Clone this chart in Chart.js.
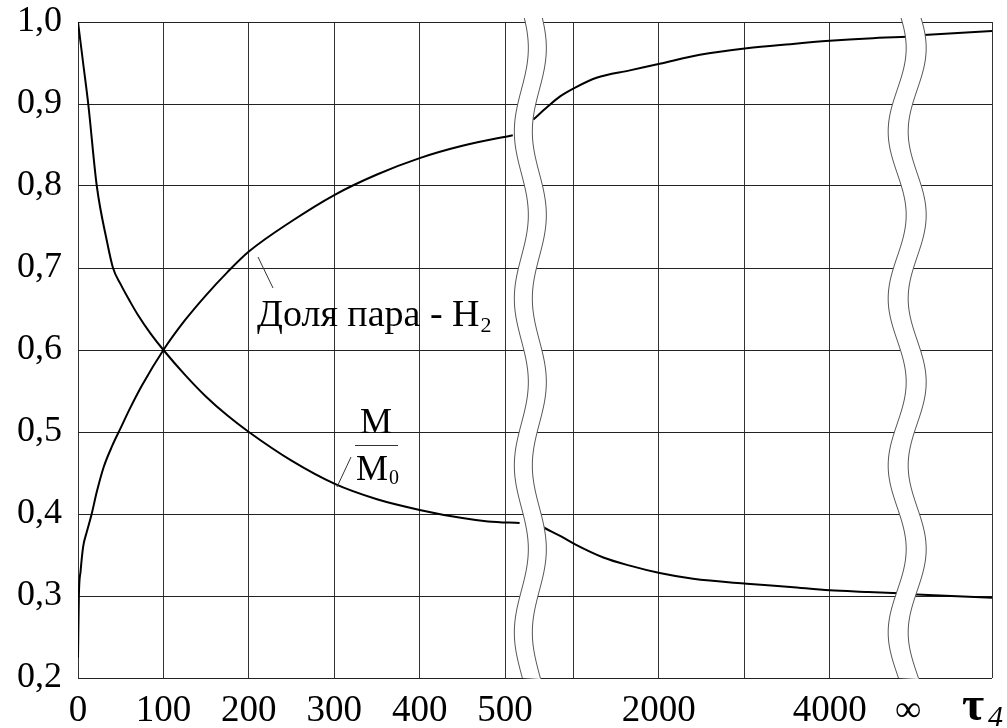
<!DOCTYPE html>
<html>
<head>
<meta charset="utf-8">
<script src="https://cdn.jsdelivr.net/npm/chart.js@4.4.1/dist/chart.umd.min.js"></script>
<style>
  html, body { margin: 0; padding: 0; background: #fff; }
  #wrap { width: 1007px; height: 728px; }
</style>
</head>
<body>
<div id="wrap"><canvas id="chart" width="1007" height="728"></canvas></div>
<script>
// Broken time axis: 0..500 linear, then 1000..4000, then "infinity"
// positions are in axis units, labels shown at them
const xTickPos = [0, 100, 200, 300, 400, 500, 580, 680, 780, 880, 972, 1070];
const xTickText = ['0', '100', '200', '300', '400', '500', '', '2000', '', '4000', '\u221E', ''];
const yTicks = [0.2, 0.3, 0.4, 0.5, 0.6, 0.7, 0.8, 0.9, 1.0];

// Доля пара - H2 (null = axis break)
const h2X = [0, 1, 3, 6, 10, 16, 22, 30, 40, 50, 60, 75, 100, 125, 150, 175, 200, 250, 300, 350, 400, 450, 509,
             508,
             533, 549, 564, 582, 607, 646, 681, 728, 783, 834, 880, 925, 970,
             971,
             990, 1070];
const h2Y = [0.225, 0.30, 0.33, 0.36, 0.377, 0.40, 0.427, 0.457, 0.483, 0.505, 0.527, 0.557, 0.60, 0.636, 0.667, 0.695, 0.72, 0.757, 0.789, 0.814, 0.834, 0.849, 0.862,
             null,
             0.881, 0.896, 0.909, 0.92, 0.932, 0.941, 0.949, 0.96, 0.968, 0.973, 0.977, 0.98, 0.982,
             null,
             0.984, 0.989];

// M / M0
const mX = [0, 6, 12, 22, 34, 41, 50, 61, 70, 85, 100, 125, 150, 175, 200, 250, 300, 350, 400, 450, 480, 517,
            518,
            535, 548, 565, 582, 615, 646, 681, 720, 783, 834, 880, 925, 970,
            971,
            975, 1070];
const mY = [1.0, 0.95, 0.9, 0.8, 0.732, 0.70, 0.68, 0.659, 0.643, 0.62, 0.60, 0.57, 0.543, 0.52, 0.50, 0.465, 0.437, 0.418, 0.405, 0.395, 0.391, 0.389,
            null,
            0.389, 0.382, 0.373, 0.363, 0.347, 0.337, 0.328, 0.321, 0.315, 0.311, 0.307, 0.305, 0.303,
            null,
            0.302, 0.298];

// where the wavy break bands sit (axis units)
const breakAt = [519, 959];
const breakGap = [18, 20];
const breakAmp = [7, 9];

const FONT = "'Liberation Serif', 'Times New Roman', serif";

const toPoints = (xs, ys) => xs.map((x, i) => ({ x: x, y: ys[i] }));

// white wavy band with thin outlines over the plot
const breakPlugin = {
    id: 'axisBreaks',
    afterDatasetsDraw(chart) {
        const { ctx, chartArea, scales } = chart;
        const top = chartArea.top - 4, bottom = chartArea.bottom + 1;
        breakAt.forEach((u, k) => {
            const x0 = scales.x.getPixelForValue(u);
            const edge = (y, dx) => x0 + dx + breakAmp[k] * Math.cos(2 * Math.PI * (y - chartArea.top - 26) / 167);
            ctx.save();
            ctx.beginPath();
            for (let y = top; y <= bottom; y += 2) ctx.lineTo(edge(y, 0), y);
            for (let y = bottom; y >= top; y -= 2) ctx.lineTo(edge(y, breakGap[k]), y);
            ctx.closePath();
            ctx.fillStyle = '#fff';
            ctx.fill();
            ctx.strokeStyle = '#555';
            ctx.lineWidth = 1;
            [0, breakGap[k]].forEach(dx => {
                ctx.beginPath();
                for (let y = top; y <= bottom; y += 2) ctx.lineTo(edge(y, dx), y);
                ctx.stroke();
            });
            ctx.restore();
        });
    }
};

// curve labels and the axis symbol
const labelPlugin = {
    id: 'curveLabels',
    afterDraw(chart) {
        const ctx = chart.ctx;
        ctx.save();
        ctx.fillStyle = '#000';
        ctx.strokeStyle = '#333';
        ctx.lineWidth = 1;
        ctx.textBaseline = 'alphabetic';

        // Доля пара - H2
        ctx.beginPath(); ctx.moveTo(258, 257); ctx.lineTo(273, 288); ctx.stroke();
        ctx.font = '38px ' + FONT;
        ctx.textAlign = 'left';
        ctx.fillText('Доля пара - H', 257, 326);
        const w = ctx.measureText('Доля пара - H').width;
        ctx.font = '22px ' + FONT;
        ctx.fillText('2', 257 + w + 1, 332);

        // M / M0
        ctx.beginPath(); ctx.moveTo(351, 457); ctx.lineTo(337, 487); ctx.stroke();
        ctx.font = '36px ' + FONT;
        ctx.textAlign = 'center';
        ctx.fillText('M', 376, 433);
        ctx.beginPath(); ctx.moveTo(355, 445.5); ctx.lineTo(398, 445.5); ctx.stroke();
        ctx.textAlign = 'left';
        const mw = ctx.measureText('M').width;
        ctx.fillText('M', 356, 480);
        ctx.font = '20px ' + FONT;
        ctx.fillText('0', 356 + mw + 1, 484);

        // tau_4
        ctx.font = 'bold 48px ' + FONT;
        ctx.fillText('\u03C4', 962, 720);
        ctx.font = 'italic 30px ' + FONT;
        ctx.fillText('4', 988, 726);
        ctx.restore();
    }
};

Chart.defaults.color = '#000';
Chart.defaults.font.family = FONT;

new Chart(document.getElementById('chart'), {
    type: 'line',
    data: {
        datasets: [
            {
                label: 'Доля пара - H2',
                data: toPoints(h2X, h2Y),
                borderColor: '#000',
                borderWidth: 2,
                pointRadius: 0,
                cubicInterpolationMode: 'monotone',
                spanGaps: false
            },
            {
                label: 'M/M0',
                data: toPoints(mX, mY),
                borderColor: '#000',
                borderWidth: 2,
                pointRadius: 0,
                cubicInterpolationMode: 'monotone',
                spanGaps: false
            }
        ]
    },
    options: {
        responsive: false,
        animation: false,
        layout: { padding: { top: 22, right: 15, left: 0, bottom: 0 } },
        plugins: { legend: { display: false }, tooltip: { enabled: false } },
        scales: {
            x: {
                type: 'linear',
                min: 0,
                max: 1070,
                afterBuildTicks: s => { s.ticks = xTickPos.map(v => ({ value: v })); },
                afterFit: s => { s.height = 50; s.paddingLeft = 0; s.paddingRight = 0; },
                ticks: {
                    autoSkip: false,
                    maxRotation: 0,
                    padding: 11,
                    font: { size: 37 },
                    callback: (v, i) => xTickText[i]
                },
                grid: {
                    drawTicks: false,
                    color: c => (c.tick && xTickText[c.index] === '\u221E') ? 'rgba(0,0,0,0)' : '#333',
                    lineWidth: 1
                },
                border: { display: false }
            },
            y: {
                min: 0.2,
                max: 1.0,
                afterBuildTicks: s => { s.ticks = yTicks.map(v => ({ value: v })); },
                afterFit: s => { s.width = 78; s.paddingTop = 0; s.paddingBottom = 0; },
                ticks: {
                    padding: 16,
                    font: { size: 36 },
                    callback: v => v.toFixed(1).replace('.', ',')
                },
                grid: { drawTicks: false, color: '#222', lineWidth: 1 },
                border: { display: false }
            }
        }
    },
    plugins: [breakPlugin, labelPlugin]
});
</script>
</body>
</html>
